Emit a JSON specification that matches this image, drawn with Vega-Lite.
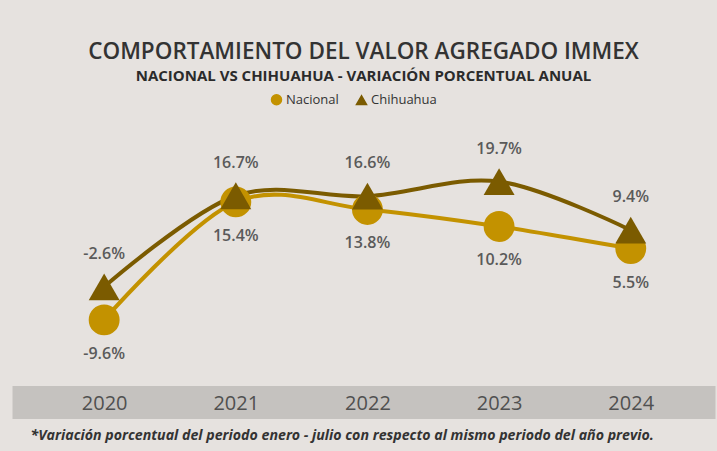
{
  "$schema": "https://vega.github.io/schema/vega-lite/v6.json",
  "width": 703,
  "height": 300,
  "autosize": {"type": "none"},
  "padding": {"left": 12, "top": 119, "right": 2, "bottom": 32},
  "background": "#e6e2df",
  "config": {"view": {"stroke": null}, "font": "Open Sans"},
  "title": {
    "text": "COMPORTAMIENTO DEL VALOR AGREGADO IMMEX",
    "subtitle": "NACIONAL VS CHIHUAHUA - VARIACIÓN PORCENTUAL ANUAL",
    "anchor": "middle",
    "frame": "group",
    "font": "Open Sans",
    "fontSize": 22.5,
    "fontWeight": 600,
    "color": "#333333",
    "subtitleFont": "Open Sans",
    "subtitleFontSize": 15,
    "subtitleFontWeight": "bold",
    "subtitleColor": "#2b2b2b",
    "subtitlePadding": 6,
    "offset": 9
  },
  "data": {
    "values": [
      {"year": 2020, "series": "Nacional", "value": -9.6, "label": "-9.6%"},
      {"year": 2021, "series": "Nacional", "value": 15.4, "label": "15.4%"},
      {"year": 2022, "series": "Nacional", "value": 13.8, "label": "13.8%"},
      {"year": 2023, "series": "Nacional", "value": 10.2, "label": "10.2%"},
      {"year": 2024, "series": "Nacional", "value": 5.5, "label": "5.5%"},
      {"year": 2020, "series": "Chihuahua", "value": -2.6, "label": "-2.6%"},
      {"year": 2021, "series": "Chihuahua", "value": 16.7, "label": "16.7%"},
      {"year": 2022, "series": "Chihuahua", "value": 16.6, "label": "16.6%"},
      {"year": 2023, "series": "Chihuahua", "value": 19.7, "label": "19.7%"},
      {"year": 2024, "series": "Chihuahua", "value": 9.4, "label": "9.4%"}
    ]
  },
  "encoding": {
    "x": {
      "field": "year",
      "type": "quantitative",
      "scale": {"domain": [2019.3, 2024.64], "nice": false, "zero": false},
      "axis": {
        "title": "*Variación porcentual del periodo enero - julio con respecto al mismo periodo del año previo.",
        "titleFont": "Open Sans",
        "titleFontStyle": "italic",
        "titleFontWeight": "bold",
        "titleFontSize": 14.2,
        "titleColor": "#333333",
        "titleAnchor": "start",
        "titleAlign": "left",
        "titleX": 18,
        "titleY": 36,
        "titleBaseline": "alphabetic",
        "offset": -16,
        "zindex": 1,
        "domain": false,
        "ticks": false,
        "grid": false,
        "labelPadding": 0,
        "labelBaseline": "middle",
        "labelFontSize": 20,
        "labelFontWeight": 500,
        "labelColor": "#505050",
        "labelFont": "Open Sans",
        "values": [2020, 2021, 2022, 2023, 2024],
        "format": "d",
        "labelFlush": false,
        "labelOverlap": false
      }
    },
    "y": {
      "field": "value",
      "type": "quantitative",
      "scale": {"domain": [-30.6, 32.96], "nice": false, "zero": false},
      "axis": {
        "title": null,
        "values": [-27.1],
        "grid": true,
        "gridWidth": 33,
        "gridColor": "#c5c2bf",
        "gridOpacity": 1,
        "labels": false,
        "ticks": false,
        "domain": false,
        "zindex": 0
      }
    }
  },
  "layer": [
    {
      "mark": {"type": "line", "interpolate": "cardinal", "strokeWidth": 4},
      "encoding": {
        "color": {
          "field": "series",
          "type": "nominal",
          "scale": {"domain": ["Nacional", "Chihuahua"], "range": ["#c39200", "#7b5b00"]}
        }
      }
    },
    {
      "mark": {"type": "point", "filled": true, "opacity": 1, "size": 955},
      "encoding": {
        "color": {
          "field": "series",
          "type": "nominal",
          "scale": {"domain": ["Nacional", "Chihuahua"], "range": ["#c39200", "#7b5b00"]},
          "legend": {
            "orient": "none",
            "legendX": 258,
            "legendY": -26,
            "direction": "horizontal",
            "title": null,
            "symbolSize": 100,
            "labelFontSize": 13,
            "labelColor": "#333333",
            "labelFont": "Open Sans",
            "columnPadding": 14,
            "labelOffset": 3,
            "symbolOpacity": 1
          }
        },
        "shape": {
          "field": "series",
          "type": "nominal",
          "scale": {"domain": ["Nacional", "Chihuahua"], "range": ["circle", "triangle-up"]},
          "legend": {
            "orient": "none",
            "legendX": 258,
            "legendY": -26,
            "direction": "horizontal",
            "title": null,
            "symbolSize": 100,
            "labelFontSize": 13,
            "labelColor": "#333333",
            "labelFont": "Open Sans",
            "columnPadding": 14,
            "labelOffset": 3,
            "symbolOpacity": 1
          }
        }
      }
    },
    {
      "transform": [{"filter": "datum.series === 'Chihuahua'"}],
      "mark": {"type": "text", "dy": -33, "font": "Open Sans", "fontSize": 16, "fontWeight": 600, "color": "#5a5a5a"},
      "encoding": {"text": {"field": "label"}}
    },
    {
      "transform": [{"filter": "datum.series === 'Nacional'"}],
      "mark": {"type": "text", "dy": 34, "font": "Open Sans", "fontSize": 16, "fontWeight": 600, "color": "#5a5a5a"},
      "encoding": {"text": {"field": "label"}}
    }
  ]
}
